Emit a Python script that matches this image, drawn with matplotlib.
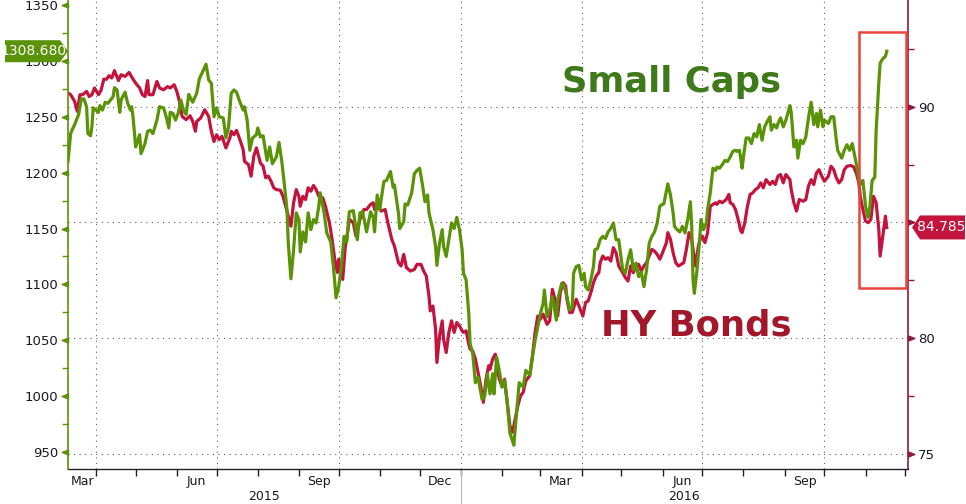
import numpy as np
import pandas as pd
import matplotlib
matplotlib.use("Agg")
import matplotlib.pyplot as plt
import matplotlib.dates as mdates
import matplotlib.transforms as mtransforms
from matplotlib.patches import Rectangle, Polygon
from matplotlib.path import Path
from matplotlib.markers import MarkerStyle

# ---------------- data ----------------
start_date = "2015-03-11"
end_days = 633

small_caps_days = [0, 2, 3, 5, 8, 10, 12, 14, 15, 17, 18, 19, 21, 23, 24, 26, 28, 30, 32, 34, 35, 37, 39, 40, 43, 45, 47, 48, 49, 51, 54, 55, 58, 60, 62, 64, 67, 69, 72, 74, 76, 77, 79, 81, 83, 85, 87, 89, 91, 94, 97, 99, 101, 104, 106, 108, 110, 112, 114, 117, 119, 121, 123, 125, 127, 129, 132, 133, 135, 137, 139, 142, 143, 145, 147, 150, 152, 154, 157, 159, 161, 163, 165, 166, 168, 170, 172, 174, 175, 177, 179, 181, 183, 185, 187, 189, 190, 193, 195, 198, 200, 202, 204, 206, 208, 210, 212, 215, 216, 218, 220, 222, 225, 228, 230, 231, 233, 235, 236, 238, 240, 243, 245, 246, 249, 250, 253, 254, 256, 259, 261, 263, 265, 267, 269, 271, 272, 275, 277, 278, 280, 282, 283, 285, 287, 289, 291, 293, 295, 297, 298, 300, 302, 303, 305, 307, 309, 312, 314, 316, 318, 320, 321, 323, 325, 327, 329, 331, 333, 336, 338, 340, 343, 345, 348, 350, 352, 354, 356, 358, 359, 361, 363, 365, 368, 369, 372, 374, 376, 378, 380, 381, 383, 385, 387, 389, 390, 392, 394, 396, 397, 399, 401, 403, 405, 407, 409, 411, 413, 415, 418, 420, 422, 424, 426, 428, 430, 432, 434, 436, 438, 440, 442, 444, 446, 447, 449, 451, 452, 454, 456, 457, 459, 461, 463, 465, 467, 469, 470, 471, 472, 474, 476, 477, 479, 481, 482, 484, 486, 488, 489, 491, 493, 495, 497, 499, 501, 503, 504, 506, 508, 509, 511, 513, 515, 517, 519, 521, 523, 525, 527, 529, 530, 532, 534, 535, 537, 539, 541, 544, 545, 547, 549, 550, 552, 554, 556, 558, 560, 562, 564, 565, 567, 569, 570, 573, 575, 577, 579, 580, 583, 585, 587, 589, 591, 593, 595, 596, 598, 599, 601, 603, 604, 606, 608, 609, 611, 612, 614, 616, 617]
small_caps = [1210, 1235, 1238, 1243, 1252, 1266, 1266, 1259, 1235, 1233, 1241, 1258, 1256, 1254, 1260, 1256, 1263, 1262, 1265, 1268, 1276, 1274, 1254, 1265, 1272, 1262, 1256, 1259, 1250, 1223, 1234, 1217, 1226, 1237, 1238, 1235, 1247, 1259, 1258, 1250, 1240, 1254, 1253, 1247, 1253, 1265, 1256, 1252, 1270, 1263, 1271, 1284, 1289, 1297, 1283, 1280, 1250, 1258, 1250, 1249, 1231, 1241, 1271, 1274, 1272, 1265, 1256, 1259, 1247, 1220, 1231, 1234, 1240, 1232, 1233, 1211, 1223, 1208, 1214, 1227, 1211, 1190, 1167, 1137, 1105, 1131, 1164, 1158, 1129, 1147, 1138, 1164, 1149, 1158, 1155, 1170, 1182, 1164, 1146, 1138, 1116, 1088, 1098, 1116, 1143, 1138, 1165, 1166, 1158, 1140, 1164, 1165, 1147, 1165, 1160, 1147, 1180, 1167, 1176, 1192, 1193, 1201, 1187, 1189, 1164, 1150, 1156, 1172, 1171, 1182, 1199, 1202, 1204, 1190, 1174, 1180, 1164, 1149, 1134, 1117, 1137, 1149, 1134, 1125, 1140, 1155, 1150, 1160, 1149, 1131, 1110, 1104, 1074, 1047, 1038, 1012, 1017, 997, 1000, 1020, 1002, 1020, 1002, 1035, 1023, 1008, 1014, 994, 967, 956, 985, 1012, 1008, 1023, 1019, 1035, 1050, 1062, 1074, 1083, 1095, 1071, 1077, 1089, 1068, 1086, 1101, 1098, 1089, 1077, 1080, 1110, 1116, 1117, 1104, 1110, 1098, 1095, 1104, 1116, 1131, 1132, 1140, 1143, 1141, 1147, 1150, 1155, 1140, 1140, 1113, 1110, 1122, 1131, 1113, 1119, 1107, 1111, 1098, 1113, 1137, 1143, 1147, 1155, 1170, 1171, 1172, 1184, 1190, 1180, 1164, 1152, 1149, 1147, 1152, 1146, 1158, 1174, 1152, 1104, 1092, 1113, 1140, 1158, 1149, 1155, 1167, 1182, 1204, 1202, 1205, 1204, 1207, 1211, 1210, 1214, 1219, 1220, 1219, 1220, 1204, 1214, 1231, 1231, 1226, 1235, 1232, 1243, 1229, 1241, 1246, 1250, 1238, 1243, 1240, 1244, 1249, 1241, 1247, 1260, 1254, 1223, 1229, 1213, 1229, 1226, 1232, 1249, 1263, 1243, 1253, 1241, 1256, 1241, 1247, 1244, 1250, 1250, 1229, 1220, 1213, 1220, 1225, 1220, 1226, 1214, 1202, 1193, 1190, 1193, 1170, 1160, 1166, 1193, 1196, 1238, 1280, 1298, 1302, 1304, 1308.68]

hy_bonds_days = [0, 2, 5, 7, 9, 11, 14, 16, 18, 20, 23, 25, 27, 29, 31, 33, 35, 38, 40, 43, 46, 49, 51, 54, 56, 58, 60, 61, 64, 67, 69, 72, 75, 77, 80, 82, 84, 86, 89, 92, 94, 96, 97, 100, 103, 106, 108, 110, 112, 114, 116, 119, 122, 123, 125, 127, 130, 132, 133, 136, 138, 140, 142, 143, 145, 147, 149, 151, 153, 155, 157, 160, 162, 164, 166, 168, 170, 172, 174, 175, 177, 179, 181, 183, 185, 187, 189, 192, 194, 197, 199, 201, 203, 204, 207, 209, 210, 212, 215, 217, 220, 223, 225, 228, 230, 231, 234, 236, 239, 241, 244, 246, 249, 251, 253, 255, 258, 261, 263, 266, 268, 270, 272, 273, 275, 277, 278, 280, 282, 283, 285, 287, 289, 291, 293, 295, 297, 298, 300, 302, 303, 305, 307, 309, 311, 313, 315, 317, 318, 320, 322, 325, 327, 329, 331, 333, 335, 337, 339, 341, 343, 345, 348, 350, 352, 354, 356, 358, 361, 363, 365, 367, 369, 371, 373, 375, 376, 378, 380, 383, 385, 386, 388, 390, 392, 394, 396, 398, 400, 401, 403, 405, 407, 409, 411, 413, 415, 418, 420, 422, 424, 426, 428, 430, 432, 434, 436, 437, 440, 442, 444, 446, 448, 451, 452, 454, 456, 458, 460, 462, 464, 466, 468, 470, 471, 473, 475, 477, 478, 480, 482, 484, 486, 488, 489, 491, 493, 496, 498, 499, 501, 503, 505, 507, 508, 510, 512, 514, 516, 518, 520, 522, 524, 526, 529, 531, 533, 535, 537, 539, 541, 544, 545, 547, 549, 551, 554, 556, 558, 560, 562, 564, 566, 568, 570, 573, 575, 577, 579, 581, 583, 585, 587, 590, 592, 594, 596, 597, 599, 601, 603, 605, 607, 609, 611, 612, 614, 616, 617]
hy_bonds = [90.59, 90.52, 90.23, 89.80, 90.52, 90.52, 90.66, 90.44, 90.52, 90.81, 90.52, 90.73, 91.19, 91.19, 91.34, 91.24, 91.56, 91.13, 91.38, 91.31, 91.48, 91.19, 91.02, 90.81, 90.52, 90.44, 91.13, 90.52, 90.52, 91.09, 90.81, 90.73, 90.87, 90.81, 90.95, 90.66, 90.23, 89.58, 89.44, 89.61, 89.37, 88.94, 89.37, 89.51, 89.87, 89.58, 88.94, 88.50, 88.79, 88.58, 88.72, 88.22, 88.65, 88.94, 88.79, 88.98, 88.50, 88.15, 87.64, 87.50, 87.00, 87.86, 88.22, 88.00, 87.57, 87.43, 86.93, 87.00, 86.78, 86.50, 86.42, 86.39, 86.13, 85.71, 85.27, 84.84, 85.85, 86.42, 86.13, 85.70, 86.13, 85.99, 86.50, 86.35, 86.60, 86.42, 86.13, 86.06, 85.70, 84.99, 84.27, 83.41, 82.84, 83.41, 82.54, 83.98, 84.27, 85.13, 84.99, 84.41, 85.13, 85.56, 85.56, 85.78, 85.85, 85.56, 85.63, 85.49, 85.56, 84.99, 84.27, 83.98, 83.26, 83.12, 83.62, 83.05, 82.90, 82.97, 83.19, 83.19, 82.90, 82.69, 81.82, 81.18, 81.39, 80.39, 78.95, 80.10, 80.75, 79.96, 79.38, 80.25, 80.75, 80.25, 80.68, 80.53, 80.32, 80.25, 80.32, 79.74, 79.53, 79.45, 79.10, 78.52, 77.94, 77.23, 78.23, 78.81, 78.66, 79.10, 79.31, 78.23, 77.94, 78.23, 77.23, 76.22, 75.94, 76.51, 77.08, 77.51, 77.66, 78.16, 78.38, 79.24, 80.25, 80.96, 80.82, 81.04, 80.60, 80.75, 82.11, 81.68, 80.96, 81.97, 82.40, 82.25, 81.68, 81.11, 81.11, 81.68, 81.39, 81.25, 80.96, 81.54, 81.61, 81.97, 82.40, 82.69, 82.83, 83.26, 83.55, 83.41, 83.48, 83.33, 83.91, 83.69, 83.12, 82.83, 82.62, 82.47, 83.12, 82.83, 83.19, 83.19, 82.90, 83.12, 83.26, 83.41, 83.84, 83.76, 83.62, 83.41, 83.69, 84.13, 84.56, 84.27, 83.69, 83.26, 83.12, 83.19, 83.26, 83.84, 84.56, 84.27, 83.84, 83.12, 83.98, 84.41, 84.41, 84.13, 84.56, 85.70, 85.78, 85.85, 85.78, 85.92, 85.85, 85.99, 86.21, 85.85, 85.78, 85.56, 85.13, 84.63, 84.56, 84.99, 85.70, 86.21, 86.28, 86.42, 86.50, 86.71, 86.50, 86.85, 86.64, 86.78, 86.64, 87.00, 87.07, 86.71, 87.07, 86.85, 86.42, 85.85, 85.49, 85.99, 85.92, 85.99, 86.57, 86.85, 86.64, 87.14, 87.28, 87.00, 86.78, 87.00, 87.43, 87.28, 86.93, 86.71, 86.85, 87.28, 87.43, 87.46, 87.40, 87.14, 86.71, 86.13, 85.56, 85.06, 84.99, 85.13, 86.13, 85.85, 84.70, 83.55, 84.41, 85.27, 84.785]

left_ticks = [950, 1000, 1050, 1100, 1150, 1200, 1250, 1300, 1350]
right_ticks = [75, 80, 85, 90]
right_tick_labels = ["75", "80", "", "90"]
month_labels = ["Mar", "Jun", "Sep", "Dec", "Mar", "Jun", "Sep"]
month_label_dates = ["2015-03-22", "2015-06-16", "2015-09-16", "2015-12-16",
                     "2016-03-16", "2016-06-16", "2016-09-16"]
year_labels = ["2015", "2016"]
year_break = "2016-01-01"

# ---------------- styling ----------------
GREEN = "#5a9208"
GREEN_TXT = "#3f7a1a"
RED = "#c2143d"
RED_TXT = "#a3172b"
RED_AXIS = "#8c1b3b"
GRID = "#606060"

plt.rcParams["font.family"] = ["DejaVu Sans"]

W, H = 966, 504
fig = plt.figure(figsize=(W / 100, H / 100), dpi=100)
fig.patch.set_facecolor("white")

x0, x1, ybot = 68, 908, 469
ax = fig.add_axes([x0 / W, 1 - ybot / H, (x1 - x0) / W, ybot / H])  # red (right scale)
axg = ax.twinx()                                                  # green (left scale)

start = pd.Timestamp(start_date)
end = start + pd.Timedelta(days=end_days)
sc_dates = start + pd.to_timedelta(small_caps_days, unit="D")
hy_dates = start + pd.to_timedelta(hy_bonds_days, unit="D")

ax.plot(hy_dates, hy_bonds, color=RED, lw=2.3, solid_joinstyle="round", zorder=3)
axg.plot(sc_dates, small_caps, color=GREEN, lw=2.3, solid_joinstyle="round", zorder=3)

ax.set_xlim(start, end)
ax.set_ylim(74.35, 94.61)
axg.set_ylim(934.8, 1354.5)

# axes sides
ax.yaxis.tick_right()
axg.yaxis.tick_left()
for a in (ax, axg):
    a.spines["top"].set_visible(False)
ax.spines["left"].set_visible(False)
axg.spines["right"].set_visible(False)
axg.spines["bottom"].set_visible(False)
axg.spines["left"].set_color(GREEN)
axg.spines["left"].set_linewidth(1.2)
ax.spines["right"].set_color(RED_AXIS)
ax.spines["right"].set_linewidth(1.2)
ax.spines["bottom"].set_color("#222222")
ax.spines["bottom"].set_linewidth(1.0)

# y ticks
axg.set_yticks(left_ticks)
axg.set_yticklabels([str(v) for v in left_ticks])
axg.yaxis.set_minor_locator(matplotlib.ticker.MultipleLocator(25))
axg.tick_params(axis="y", which="major", length=0, pad=7, labelsize=9.5, labelcolor="#1a1a1a")
axg.tick_params(axis="y", which="minor", length=4, width=1, color=GREEN, direction="out")

ax.set_yticks(right_ticks)
ax.set_yticklabels(right_tick_labels)
ax.yaxis.set_minor_locator(matplotlib.ticker.FixedLocator([77.5, 82.5, 87.5, 92.5]))
ax.tick_params(axis="y", which="major", length=0, pad=7, labelsize=9.5, labelcolor="#1a1a1a")
ax.tick_params(axis="y", which="minor", length=4, width=1, color=RED_AXIS, direction="out")

# triangle tick markers
tri_left = MarkerStyle(Path([(0, 0.4), (0, -0.4), (-1, 0), (0, 0.4)]))
tri_right = MarkerStyle(Path([(0, 0.4), (0, -0.4), (1, 0), (0, 0.4)]))
tl = mtransforms.blended_transform_factory(axg.transAxes, axg.transData)
axg.plot([0] * len(left_ticks), left_ticks, ls="none", marker=tri_left, ms=9,
         color=GREEN, transform=tl, clip_on=False, zorder=5)
tr = mtransforms.blended_transform_factory(ax.transAxes, ax.transData)
ax.plot([1] * len(right_ticks), right_ticks, ls="none", marker=tri_right, ms=9,
        color=RED_AXIS, transform=tr, clip_on=False, zorder=5)

# grid
ax.grid(axis="y", which="major", color=GRID, lw=0.8, linestyle=(0, (1, 4)))
ax.xaxis.set_major_locator(mdates.MonthLocator(bymonth=[1, 4, 7, 10], bymonthday=1))
ax.xaxis.set_minor_locator(mdates.MonthLocator(bymonthday=1))
ax.grid(axis="x", which="major", color=GRID, lw=0.8, linestyle=(0, (1, 4)))
ax.tick_params(axis="x", which="both", length=5, width=1, color="#222222", direction="out",
               labelbottom=False)

# month / year labels
tx = mtransforms.blended_transform_factory(ax.transData, ax.transAxes)
for lab, d in zip(month_labels, month_label_dates):
    ax.text(pd.Timestamp(d), -0.012, lab, transform=tx, ha="center", va="top",
            fontsize=9, color="#1a1a1a")
yb = pd.Timestamp(year_break)
ax.text(start + (yb - start) / 2, -0.045, year_labels[0], transform=tx, ha="center",
        va="top", fontsize=9, color="#1a1a1a")
ax.text(yb + (end - yb) / 2, -0.045, year_labels[1], transform=tx, ha="center",
        va="top", fontsize=9, color="#1a1a1a")
ax.plot([yb, yb], [0, -35 / ybot], transform=tx, color="#bbbbbb", lw=0.8, clip_on=False)

# red highlight box
hx0 = start + pd.Timedelta(days=596)
hx1 = start + pd.Timedelta(days=631.5)
axg.add_patch(Rectangle((mdates.date2num(hx0), 1097), mdates.date2num(hx1) - mdates.date2num(hx0),
                        1326 - 1097, fill=False, edgecolor="#e8453c", lw=1.8, zorder=6))

# big labels
fig.text(562 / W, 1 - 92 / H, "Small Caps", fontsize=25.5, fontweight="bold",
         color=GREEN_TXT, ha="left", va="baseline")
fig.text(601 / W, 1 - 335 / H, "HY Bonds", fontsize=25.5, fontweight="bold",
         color=RED_TXT, ha="left", va="baseline")

# last-value flags
fig.canvas.draw()
yg = axg.transData.transform((0, small_caps[-1]))[1]
yr = ax.transData.transform((0, hy_bonds[-1]))[1]
hb = 11
fig.patches.append(Polygon([(5, yg - hb), (60, yg - hb), (68, yg), (60, yg + hb), (5, yg + hb)],
                           closed=True, transform=None, facecolor=GREEN, edgecolor="none",
                           zorder=10))
fig.text(33 / W, yg / H, f"{small_caps[-1]:.3f}", color="white", fontsize=10,
         ha="center", va="center", zorder=11)
hb2 = 12
fig.patches.append(Polygon([(912, yr), (920, yr - hb2), (965, yr - hb2), (965, yr + hb2),
                            (920, yr + hb2)], closed=True, transform=None, facecolor=RED,
                           edgecolor="none", zorder=10))
fig.text(941 / W, yr / H, f"{hy_bonds[-1]:.3f}", color="white", fontsize=10,
         ha="center", va="center", zorder=11)

fig.savefig("out.png", dpi=100, facecolor="white")
